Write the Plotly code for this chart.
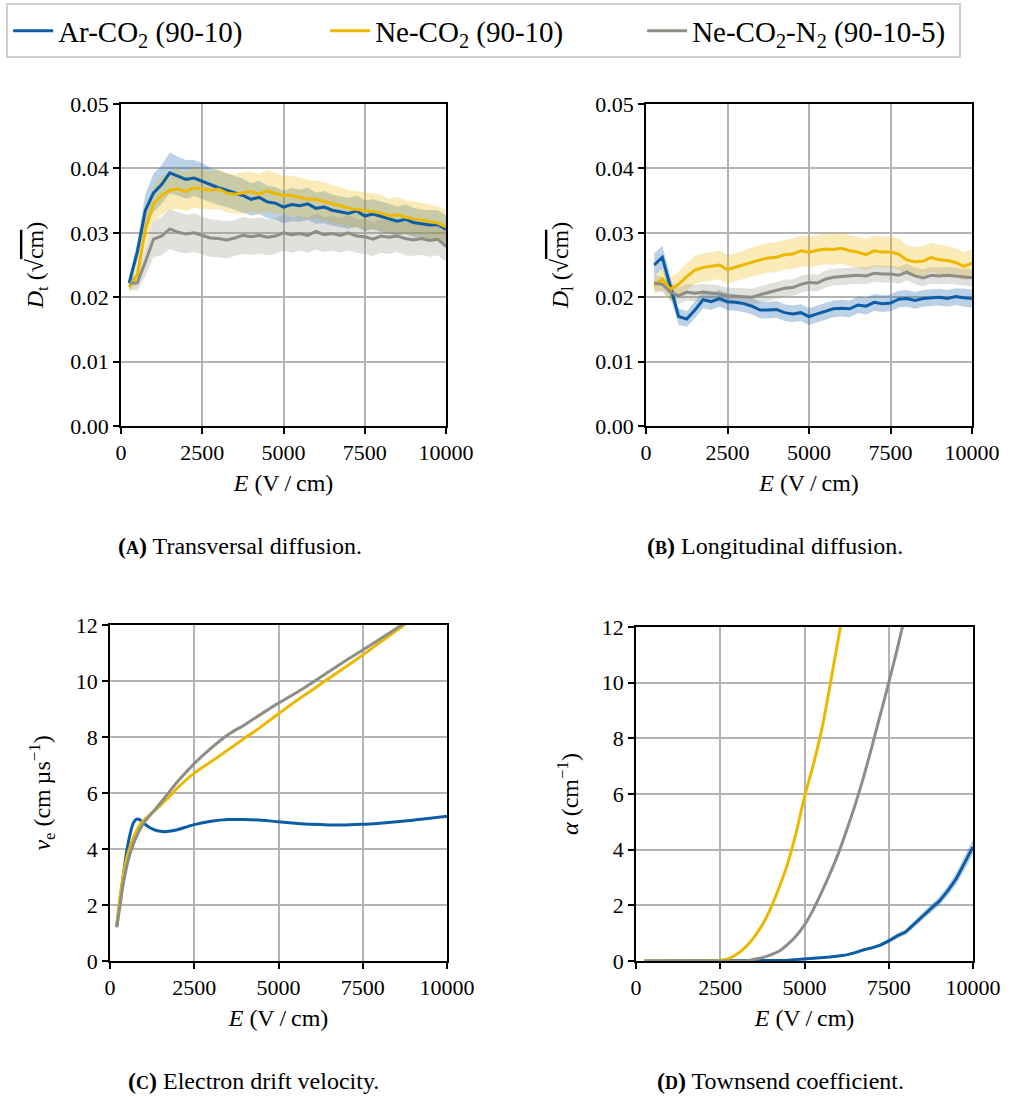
import plotly.graph_objects as go

FONT = "Liberation Serif"
BLUE = "#0C5DA5"
YELLOW = "#EDB800"
GRAY = "#8E8E86"
BLUE_F = "rgba(12,93,165,0.28)"
YELLOW_F = "rgba(237,184,0,0.28)"
GRAY_F = "rgba(142,142,134,0.28)"

labels = ["Ar-CO<sub>2</sub> (90-10)", "Ne-CO<sub>2</sub> (90-10)", "Ne-CO<sub>2</sub>-N<sub>2</sub> (90-10-5)"]

# ---- (A) transversal diffusion ----
E_d = [250, 500, 750, 1000, 1250, 1500, 1750, 2000, 2250, 2500,
       2750, 3000, 3250, 3500, 3750, 4000, 4250, 4500, 4750, 5000,
       5250, 5500, 5750, 6000, 6250, 6500, 6750, 7000, 7250, 7500,
       7750, 8000, 8250, 8500, 8750, 9000, 9250, 9500, 9750, 10000]

dt_ar = [0.0222, 0.0270, 0.0335, 0.0362, 0.0375, 0.0393, 0.0388, 0.0383, 0.0385, 0.0380,
         0.0374, 0.0370, 0.0366, 0.0362, 0.0358, 0.0352, 0.0355, 0.0348, 0.0346, 0.0340,
         0.0344, 0.0342, 0.0345, 0.0338, 0.0340, 0.0335, 0.0333, 0.0330, 0.0334, 0.0326,
         0.0329, 0.0325, 0.0322, 0.0318, 0.0321, 0.0316, 0.0314, 0.0312, 0.0313, 0.0305]
dt_ar_err = [0.0010, 0.0015, 0.0025, 0.0030, 0.0030, 0.0032, 0.0030, 0.0030, 0.0028, 0.0028,
             0.0027, 0.0027, 0.0026, 0.0026, 0.0026, 0.0025, 0.0026, 0.0025, 0.0025, 0.0025,
             0.0026, 0.0025, 0.0025, 0.0024, 0.0025, 0.0024, 0.0024, 0.0024, 0.0024, 0.0024,
             0.0023, 0.0024, 0.0023, 0.0023, 0.0023, 0.0023, 0.0022, 0.0023, 0.0022, 0.0022]
dt_ne = [0.0216, 0.0235, 0.0305, 0.0345, 0.0358, 0.0366, 0.0368, 0.0364, 0.0370, 0.0368,
         0.0366, 0.0368, 0.0362, 0.0360, 0.0362, 0.0364, 0.0360, 0.0365, 0.0361, 0.0358,
         0.0358, 0.0355, 0.0352, 0.0352, 0.0349, 0.0345, 0.0342, 0.0338, 0.0336, 0.0335,
         0.0333, 0.0331, 0.0326, 0.0328, 0.0324, 0.0322, 0.0320, 0.0317, 0.0315, 0.0309]
dt_ne_err = [0.0010, 0.0015, 0.0025, 0.0028, 0.0030, 0.0030, 0.0031, 0.0030, 0.0031, 0.0030,
             0.0030, 0.0031, 0.0030, 0.0031, 0.0032, 0.0031, 0.0031, 0.0032, 0.0031, 0.0030,
             0.0031, 0.0030, 0.0030, 0.0029, 0.0030, 0.0029, 0.0029, 0.0028, 0.0029, 0.0028,
             0.0028, 0.0028, 0.0027, 0.0028, 0.0027, 0.0027, 0.0026, 0.0027, 0.0026, 0.0026]
dt_nen = [0.0222, 0.0222, 0.0255, 0.0290, 0.0295, 0.0306, 0.0301, 0.0298, 0.0300, 0.0296,
          0.0292, 0.0291, 0.0289, 0.0292, 0.0296, 0.0294, 0.0296, 0.0293, 0.0295, 0.0300,
          0.0297, 0.0299, 0.0296, 0.0302, 0.0297, 0.0299, 0.0296, 0.0300, 0.0295, 0.0294,
          0.0290, 0.0295, 0.0293, 0.0295, 0.0291, 0.0289, 0.0291, 0.0288, 0.0290, 0.0279]
dt_nen_err = [0.0010, 0.0012, 0.0022, 0.0028, 0.0030, 0.0031, 0.0031, 0.0030, 0.0030, 0.0030,
              0.0029, 0.0029, 0.0029, 0.0028, 0.0029, 0.0028, 0.0028, 0.0028, 0.0028, 0.0028,
              0.0028, 0.0027, 0.0027, 0.0028, 0.0027, 0.0027, 0.0027, 0.0027, 0.0026, 0.0027,
              0.0026, 0.0026, 0.0026, 0.0025, 0.0026, 0.0025, 0.0025, 0.0025, 0.0025, 0.0024]

# ---- (B) longitudinal diffusion ----
dl_ar = [0.0250, 0.0262, 0.0216, 0.0170, 0.0166, 0.0180, 0.0196, 0.0193, 0.0198, 0.0193,
         0.0192, 0.0190, 0.0186, 0.0180, 0.0180, 0.0181, 0.0176, 0.0174, 0.0176, 0.0170,
         0.0174, 0.0178, 0.0182, 0.0183, 0.0182, 0.0188, 0.0186, 0.0192, 0.0190, 0.0191,
         0.0197, 0.0198, 0.0195, 0.0198, 0.0199, 0.0200, 0.0198, 0.0201, 0.0199, 0.0198]
dl_ar_err = [0.0018, 0.0018, 0.0016, 0.0013, 0.0012, 0.0013, 0.0013, 0.0013, 0.0013, 0.0013,
             0.0013, 0.0013, 0.0013, 0.0013, 0.0013, 0.0013, 0.0013, 0.0013, 0.0013, 0.0013,
             0.0013, 0.0013, 0.0013, 0.0013, 0.0013, 0.0013, 0.0013, 0.0013, 0.0013, 0.0013,
             0.0013, 0.0013, 0.0013, 0.0013, 0.0013, 0.0013, 0.0013, 0.0013, 0.0014, 0.0014]
dl_ne = [0.0218, 0.0228, 0.0212, 0.0220, 0.0232, 0.0242, 0.0246, 0.0248, 0.0250, 0.0243,
         0.0247, 0.0250, 0.0255, 0.0258, 0.0261, 0.0262, 0.0266, 0.0267, 0.0272, 0.0270,
         0.0273, 0.0275, 0.0274, 0.0276, 0.0272, 0.0270, 0.0266, 0.0272, 0.0270, 0.0270,
         0.0267, 0.0258, 0.0255, 0.0256, 0.0262, 0.0258, 0.0257, 0.0254, 0.0248, 0.0253]
dl_ne_err = [0.0014, 0.0016, 0.0018, 0.0020, 0.0021, 0.0022, 0.0022, 0.0022, 0.0022, 0.0022,
             0.0022, 0.0022, 0.0023, 0.0023, 0.0023, 0.0023, 0.0023, 0.0024, 0.0024, 0.0024,
             0.0024, 0.0024, 0.0024, 0.0024, 0.0024, 0.0024, 0.0024, 0.0024, 0.0024, 0.0024,
             0.0024, 0.0023, 0.0023, 0.0023, 0.0023, 0.0023, 0.0023, 0.0022, 0.0022, 0.0022]
dl_nen = [0.0222, 0.0220, 0.0208, 0.0202, 0.0208, 0.0206, 0.0208, 0.0207, 0.0205, 0.0202,
          0.0201, 0.0200, 0.0200, 0.0204, 0.0207, 0.0211, 0.0214, 0.0215, 0.0220, 0.0223,
          0.0222, 0.0228, 0.0231, 0.0232, 0.0233, 0.0234, 0.0233, 0.0237, 0.0236, 0.0236,
          0.0234, 0.0239, 0.0233, 0.0230, 0.0234, 0.0233, 0.0234, 0.0233, 0.0231, 0.0230]
dl_nen_err = [0.0012, 0.0012, 0.0013, 0.0013, 0.0013, 0.0013, 0.0013, 0.0013, 0.0013, 0.0013,
              0.0013, 0.0013, 0.0013, 0.0013, 0.0013, 0.0013, 0.0013, 0.0013, 0.0013, 0.0013,
              0.0013, 0.0013, 0.0013, 0.0013, 0.0013, 0.0013, 0.0013, 0.0013, 0.0013, 0.0013,
              0.0013, 0.0013, 0.0013, 0.0013, 0.0013, 0.0013, 0.0013, 0.0013, 0.0013, 0.0013]

# ---- (C) electron drift velocity ----
E_v = [200, 300, 400, 500, 600, 700, 800, 900, 1000, 1200, 1400, 1600, 1800, 2000, 2500,
       3000, 3500, 4000, 4500, 5000, 5500, 6000, 6500, 7000, 7500, 8000, 8500, 9000, 9500, 10000]
ve_ar = [1.25, 2.2, 3.1, 3.95, 4.55, 4.95, 5.07, 5.03, 4.92, 4.75, 4.65, 4.62, 4.64, 4.69, 4.87,
         4.99, 5.05, 5.05, 5.03, 4.97, 4.92, 4.88, 4.86, 4.86, 4.88, 4.92, 4.97, 5.03, 5.10, 5.17]
ve_ne = [1.3, 2.3, 3.1, 3.7, 4.1, 4.42, 4.68, 4.88, 5.02, 5.25, 5.45, 5.68, 5.92, 6.18, 6.71,
         7.12, 7.54, 7.96, 8.38, 8.83, 9.27, 9.68, 10.1, 10.51, 10.93, 11.37, 11.8, 12.25, 12.7, 13.15]
ve_nen = [1.2, 2.0, 2.8, 3.4, 3.85, 4.2, 4.48, 4.72, 4.92, 5.22, 5.5, 5.8, 6.1, 6.4, 7.05,
          7.6, 8.08, 8.44, 8.83, 9.21, 9.56, 9.94, 10.34, 10.73, 11.11, 11.49, 11.88, 12.27, 12.66, 13.05]

# ---- (D) Townsend coefficient ----
E_a = E_d
al_ar = [0.0, 0.0, 0.0, 0.0, 0.0, 0.0, 0.0, 0.0, 0.0, 0.0,
         0.0, 0.0, 0.0, 0.0, 0.0, 0.01, 0.02, 0.03, 0.05, 0.06,
         0.08, 0.10, 0.14, 0.18, 0.22, 0.30, 0.40, 0.47, 0.57, 0.72,
         0.90, 1.04, 1.33, 1.60, 1.88, 2.15, 2.52, 2.95, 3.52, 4.10]
al_ar_err = [0.0, 0.0, 0.0, 0.0, 0.0, 0.0, 0.0, 0.0, 0.0, 0.0,
             0.0, 0.0, 0.0, 0.0, 0.0, 0.01, 0.01, 0.01, 0.02, 0.02,
             0.02, 0.03, 0.03, 0.04, 0.04, 0.05, 0.06, 0.06, 0.07, 0.08,
             0.09, 0.10, 0.12, 0.13, 0.15, 0.16, 0.18, 0.20, 0.24, 0.28]
al_ne = [0.0, 0.0, 0.0, 0.0, 0.0, 0.0, 0.0, 0.0, 0.0, 0.02,
         0.08, 0.25, 0.50, 0.85, 1.30, 1.90, 2.65, 3.50, 4.60, 5.90,
         7.00, 8.25, 9.85, 11.55, 13.30]
al_nen = [0.0, 0.0, 0.0, 0.0, 0.0, 0.0, 0.0, 0.0, 0.0, 0.0,
          0.0, 0.0, 0.0, 0.06, 0.12, 0.22, 0.36, 0.60, 0.90, 1.30,
          1.82, 2.45, 3.12, 3.85, 4.70, 5.60, 6.60, 7.70, 8.85, 10.0,
          11.2, 12.5]

fig = go.Figure()


def band(x, y, err, fill, xa, ya):
    up = [a + b for a, b in zip(y, err)]
    lo = [a - b for a, b in zip(y, err)]
    fig.add_trace(go.Scatter(x=x, y=up, mode="lines", line=dict(width=0), hoverinfo="skip",
                             showlegend=False, xaxis=xa, yaxis=ya))
    fig.add_trace(go.Scatter(x=x, y=lo, mode="lines", line=dict(width=0), fill="tonexty",
                             fillcolor=fill, hoverinfo="skip", showlegend=False, xaxis=xa, yaxis=ya))


def line(x, y, color, xa, ya, name=None, legend=False, shape="linear"):
    fig.add_trace(go.Scatter(x=x, y=y, mode="lines", line=dict(color=color, width=3, shape=shape),
                             name=name, showlegend=legend, xaxis=xa, yaxis=ya))


# Panel A
band(E_d, dt_ar, dt_ar_err, BLUE_F, "x", "y")
band(E_d, dt_ne, dt_ne_err, YELLOW_F, "x", "y")
band(E_d, dt_nen, dt_nen_err, GRAY_F, "x", "y")
line(E_d, dt_ar, BLUE, "x", "y", labels[0], True)
line(E_d, dt_ne, YELLOW, "x", "y", labels[1], True)
line(E_d, dt_nen, GRAY, "x", "y", labels[2], True)

# Panel B
band(E_d, dl_ar, dl_ar_err, BLUE_F, "x2", "y2")
band(E_d, dl_ne, dl_ne_err, YELLOW_F, "x2", "y2")
band(E_d, dl_nen, dl_nen_err, GRAY_F, "x2", "y2")
line(E_d, dl_ar, BLUE, "x2", "y2")
line(E_d, dl_ne, YELLOW, "x2", "y2")
line(E_d, dl_nen, GRAY, "x2", "y2")

# Panel C
line(E_v, ve_ar, BLUE, "x3", "y3", shape="spline")
line(E_v, ve_ne, YELLOW, "x3", "y3", shape="spline")
line(E_v, ve_nen, GRAY, "x3", "y3", shape="spline")

# Panel D
band(E_a, al_ar, al_ar_err, BLUE_F, "x4", "y4")
line(E_a, al_ar, BLUE, "x4", "y4")
line(E_a[:len(al_ne)], al_ne, YELLOW, "x4", "y4", shape="spline")
line(E_a[:len(al_nen)], al_nen, GRAY, "x4", "y4", shape="spline")

W, H = 1025, 1097
TICK = dict(family=FONT, size=22, color="black")
TITLE = dict(family=FONT, size=24, color="black")
xticks = [0, 2500, 5000, 7500, 10000]
xticklabels = ["0", "2500", "5000", "7500", "10000"]


def xax(l, r, anchor):
    return dict(domain=[l / W, r / W], anchor=anchor, range=[0, 10000], tickvals=xticks, ticktext=xticklabels,
                showline=True, mirror=True, linecolor="black", linewidth=1.5, ticks="outside", ticklen=6,
                tickwidth=1.5, tickcolor="black", showgrid=True, gridcolor="#b4b4b4", gridwidth=1.5,
                zeroline=False, tickfont=TICK, automargin=False,
                title=dict(text="<i>E</i> (V\u2009/\u2009cm)", font=TITLE, standoff=10))


def yax(t, b, anchor, rng, tv, tt, title, standoff):
    return dict(domain=[1 - b / H, 1 - t / H], anchor=anchor, range=rng, tickvals=tv, ticktext=tt,
                showline=True, mirror=True, linecolor="black", linewidth=1.5, ticks="outside", ticklen=6,
                tickwidth=1.5, tickcolor="black", showgrid=True, gridcolor="#b4b4b4", gridwidth=1.5,
                zeroline=False, tickfont=TICK, automargin=False,
                title=dict(text=title, font=TITLE, standoff=standoff))


dtick = [0, 0.01, 0.02, 0.03, 0.04, 0.05]
dticklabels = ["0.00", "0.01", "0.02", "0.03", "0.04", "0.05"]
vtick = [0, 2, 4, 6, 8, 10, 12]
vticklabels = ["0", "2", "4", "6", "8", "10", "12"]
sq = "(\u221a<span style='text-decoration:overline'>cm</span>)"

fig.update_layout(
    width=W, height=H,
    margin=dict(l=0, r=0, t=0, b=0, autoexpand=False),
    template="none",
    paper_bgcolor="white", plot_bgcolor="white",
    font=dict(family=FONT, color="black"),
    xaxis=xax(121, 446, "y"),
    yaxis=yax(104, 426, "x", [0, 0.05], dtick, dticklabels, "<i>D</i><sub>t</sub> " + sq, 20),
    xaxis2=xax(646, 972, "y2"),
    yaxis2=yax(104, 426, "x2", [0, 0.05], dtick, dticklabels, "<i>D</i><sub>l</sub> " + sq, 20),
    xaxis3=xax(110, 447, "y3"),
    yaxis3=yax(625, 961, "x3", [0, 12], vtick, vticklabels,
               "<i>v</i><sub>e</sub> (cm\u2009\u00b5s<sup>\u22121</sup>)", 18),
    xaxis4=xax(636, 973, "y4"),
    yaxis4=yax(627, 961, "x4", [0, 12], vtick, vticklabels, "<i>\u03b1</i> (cm<sup>\u22121</sup>)", 16),
    legend=dict(orientation="h", xref="container", yref="container", x=0.006, y=0.997,
                xanchor="left", yanchor="top", bordercolor="#d0d0d0", borderwidth=2, bgcolor="white",
                font=dict(family=FONT, size=29, color="black"), entrywidth=262, entrywidthmode="pixels",
                itemwidth=40, traceorder="normal", tracegroupgap=0),
    showlegend=True,
)

captions = [
    (240, 546, "<b>(<span style='font-size:18px'>A</span>)</b> Transversal diffusion."),
    (775, 546, "<b>(<span style='font-size:18px'>B</span>)</b> Longitudinal diffusion."),
    (253, 1081, "<b>(<span style='font-size:18px'>C</span>)</b> Electron drift velocity."),
    (780, 1081, "<b>(<span style='font-size:18px'>D</span>)</b> Townsend coefficient."),
]
for cx, cy, txt in captions:
    fig.add_annotation(x=cx / W, y=1 - cy / H, xref="paper", yref="paper", text=txt, showarrow=False,
                       xanchor="center", yanchor="middle", font=dict(family=FONT, size=24, color="black"))

fig.write_html("out.html")
